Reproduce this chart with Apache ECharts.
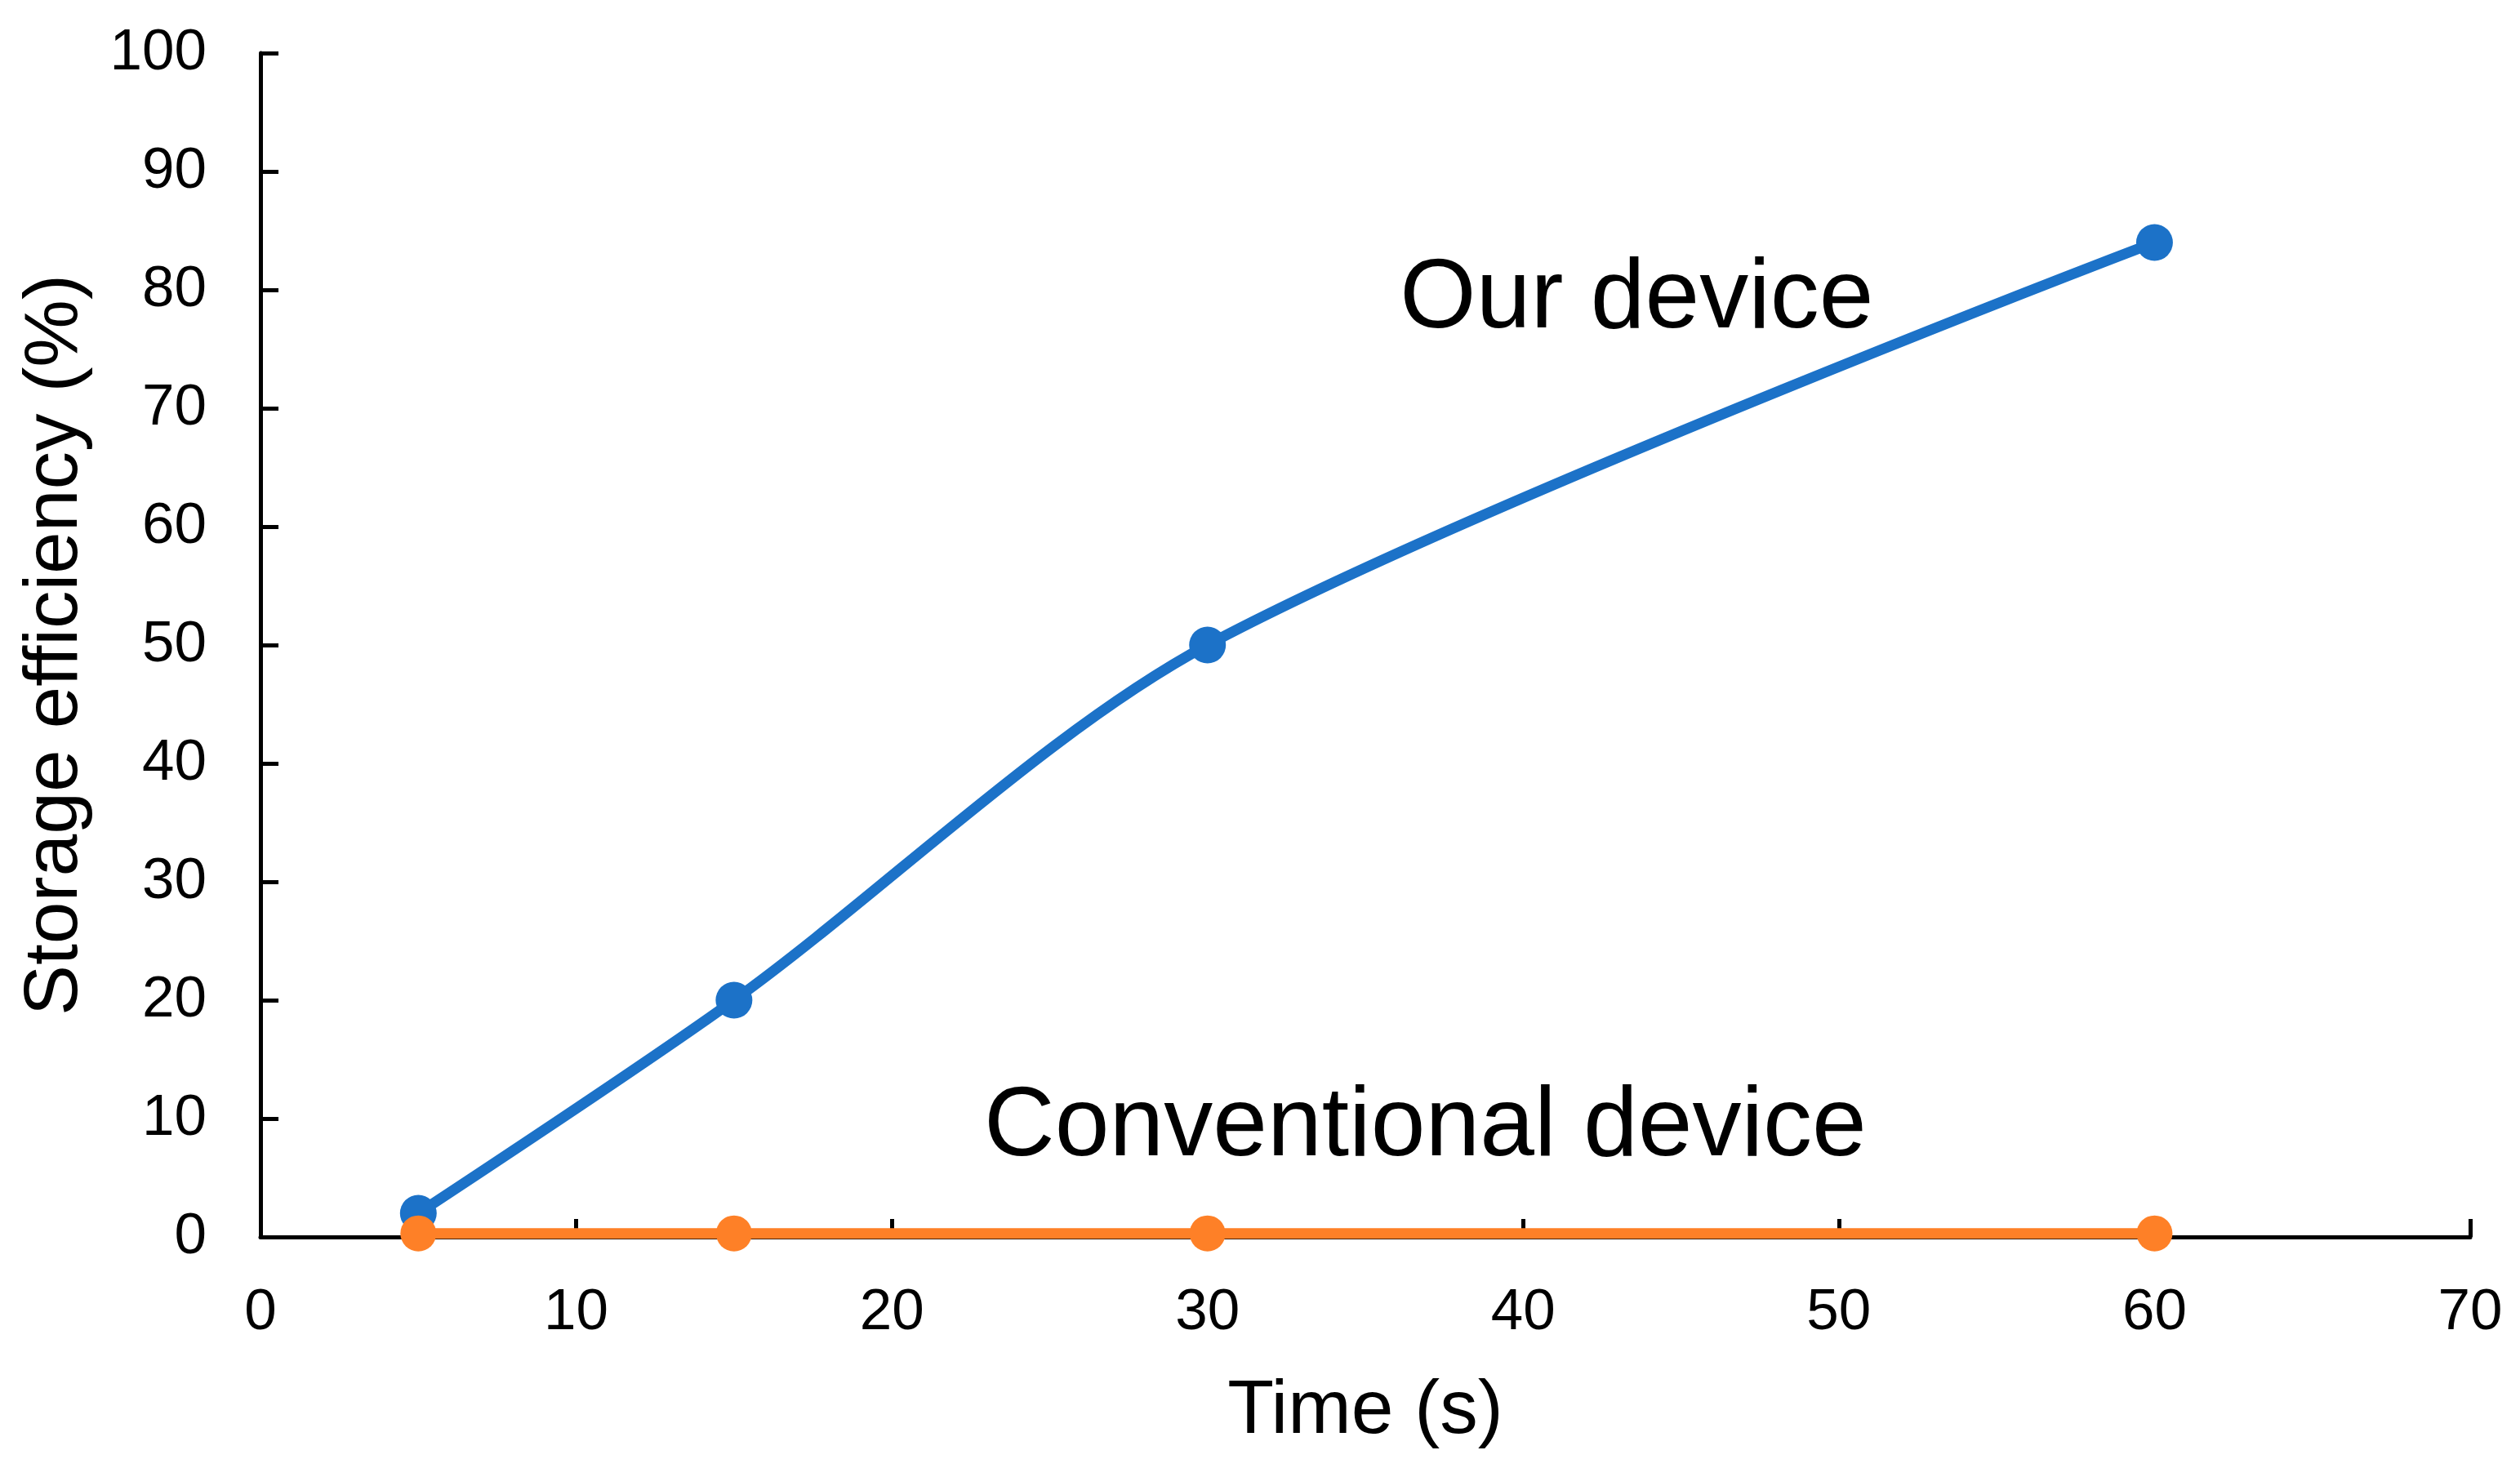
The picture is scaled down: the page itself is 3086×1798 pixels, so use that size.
<!DOCTYPE html>
<html>
<head>
<meta charset="utf-8">
<title>Storage efficiency</title>
<script src="https://cdn.jsdelivr.net/npm/echarts@6/dist/echarts.min.js"></script>
<style>
  html, body { margin: 0; padding: 0; background: #fff; }
  #chart { width: 3086px; height: 1798px; }
</style>
</head>
<body>
<div id="chart"></div>
<script>
// values
const timeSeconds = [5, 15, 30, 60];
const ourDevice = [2, 20, 50, 84];
const conventionalDevice = [0.3, 0.3, 0.3, 0.3];
const xTicks = [0, 10, 20, 30, 40, 50, 60, 70];
const yTicks = [0, 10, 20, 30, 40, 50, 60, 70, 80, 90, 100];

const FONT = "'Liberation Sans', Arial, sans-serif";
const BLUE = '#1c72c8';
const ORANGE = '#fe8027';

const chart = echarts.init(document.getElementById('chart'));

const pairs = (xs, ys) => xs.map((x, i) => [x, ys[i]]);

const axisCommon = {
  type: 'value',
  splitLine: { show: false },
  axisLine: { show: true, lineStyle: { color: '#000', width: 5 } },
  axisTick: { show: true, inside: true, length: 22, lineStyle: { color: '#000', width: 5 } },
  nameLocation: 'middle',
  nameTextStyle: { fontFamily: FONT, fontSize: 93, color: '#000' }
};

chart.setOption({
  animation: false,
  backgroundColor: '#fff',
  grid: { left: 319, right: 61, top: 65, bottom: 283, containLabel: false },
  xAxis: Object.assign({}, axisCommon, {
    min: xTicks[0],
    max: xTicks[xTicks.length - 1],
    interval: 10,
    name: 'Time (s)',
    nameGap: 168,
    axisLabel: { fontFamily: FONT, fontSize: 71, color: '#000', margin: 58 }
  }),
  yAxis: Object.assign({}, axisCommon, {
    min: yTicks[0],
    max: yTicks[yTicks.length - 1],
    interval: 10,
    name: 'Storage efficiency (%)',
    nameGap: 204,
    axisLabel: { fontFamily: FONT, fontSize: 71, color: '#000', margin: 66 }
  }),
  series: [
    {
      name: 'Our device',
      type: 'line',
      data: pairs(timeSeconds, ourDevice),
      smooth: 0.3,
      symbol: 'circle',
      symbolSize: 45,
      itemStyle: { color: BLUE },
      lineStyle: { color: BLUE, width: 13 }
    },
    {
      name: 'Conventional device',
      type: 'line',
      data: pairs(timeSeconds, conventionalDevice),
      symbol: 'circle',
      symbolSize: 44,
      itemStyle: { color: ORANGE },
      lineStyle: { color: ORANGE, width: 13 }
    }
  ]
});

// in-plot labels, placed by data coordinates
const labelAt = (text, x, y) => {
  const p = chart.convertToPixel({ gridIndex: 0 }, [x, y]);
  return {
    type: 'text',
    x: p[0],
    y: p[1],
    style: {
      text: text,
      fontFamily: FONT,
      fontSize: 120,
      fill: '#000',
      align: 'center',
      verticalAlign: 'middle'
    }
  };
};

chart.setOption({
  graphic: [
    labelAt('Our device', 43.6, 79.1),
    labelAt('Conventional device', 36.9, 9.2)
  ]
});
</script>
</body>
</html>
